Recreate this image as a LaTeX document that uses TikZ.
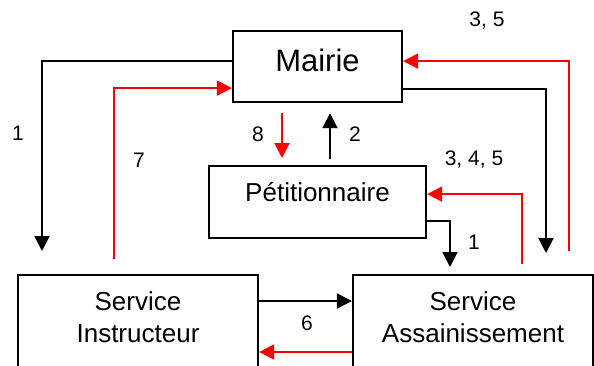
\documentclass[tikz,border=0pt]{standalone}
\usepackage{fontspec}
\setmainfont{Liberation Sans}
\usetikzlibrary{arrows.meta}

\begin{document}
\begin{tikzpicture}[x=0.5pt, y=-0.5pt]
        % ================= styles =================
        \tikzset{
            % rectangular boxes, text hangs from the top edge
            box/.style={draw=black, line width=1.1pt, fill=white, inner sep=0pt, align=center},
            % step numbers
            lbl/.style={font=\fontsize{10.5}{12}\selectfont},
            % black flow
            blk/.style={line width=1pt, black, -{Triangle[length=7.5pt, width=7.5pt]}},
            % red flow (returns)
            rd/.style={line width=1pt, red, -{Triangle[length=7.5pt, width=7.5pt]}}
        }

        \useasboundingbox (0,0) rectangle (594,365);
        \clip (0,0) rectangle (594,365);

        % ================= boxes =================
        \node[box, anchor=north, text width=84.5pt, text height=20pt, text depth=15.5pt,
              font=\fontsize{15.5}{18}\selectfont] (mairie) at (317.5,30) {Mairie};
        \node[box, anchor=north, text width=108.5pt, text height=17.5pt, text depth=18.5pt,
              font=\fontsize{13}{16}\selectfont] (petit) at (317.5,165) {Pétitionnaire};
        \node[box, anchor=north, text width=120pt, text height=17.5pt, text depth=60pt,
              font=\fontsize{13}{16}\selectfont] (instr) at (138,274) {Service\\Instructeur};
        \node[box, anchor=north, text width=120pt, text height=17.5pt, text depth=60pt,
              font=\fontsize{13}{16}\selectfont] (assain) at (473,274) {Service\\Assainissement};

        % ================= free ends =================
        \coordinate (tip1) at (42,251);    % arrow 1 to the left
        \coordinate (src7) at (114,259);   % start of 7
        \coordinate (tip1b) at (546,253);  % arrow 1 to the right
        \coordinate (src35) at (569,251);  % start of 3, 5

        % ================= connectors =================
        % Mairie -> both services
        \draw[blk] ([yshift=2.75pt]mairie.west) -| (tip1);
        \draw[blk] ([yshift=-11.25pt]mairie.east) -| (tip1b);

        % returns to Mairie
        \draw[rd] (src7) |- ([yshift=-10.75pt]mairie.west);
        \draw[rd] (src35) |- ([yshift=2.75pt]mairie.east);

        % Mairie <-> Petitionnaire
        \draw[rd, shorten <=5pt, shorten >=3.5pt] ([xshift=-17.75pt]mairie.south) -- ([xshift=-17.75pt]petit.north);
        \draw[blk, shorten <=3pt, shorten >=5pt] ([xshift=6.25pt]petit.north) -- ([xshift=6.25pt]mairie.south);

        % Petitionnaire <-> Assainissement
        \draw[blk, shorten >=3.5pt] ([yshift=-9.5pt]petit.east) -| ([xshift=-11.5pt]assain.north);
        \draw[rd, shorten <=5pt] ([xshift=24.5pt]assain.north) |- ([yshift=4pt]petit.east);

        % Instructeur <-> Assainissement
        \draw[blk] ([yshift=-13.5pt]instr.north east) -- ([yshift=-13.5pt]assain.north west);
        \draw[rd] ([yshift=-39pt]assain.north west) -- ([yshift=-39pt]instr.north east);

        % ================= labels =================
        \node[lbl] (n1a) at (18,133) {1};
        \node[lbl] (n7) at (139,160) {7};
        \node[lbl] (n8) at (258,134) {8};
        \node[lbl] (n2) at (355,134) {2};
        \node[lbl] (n35) at (487,21) {3, 5};
        \node[lbl] (n345) at (474,160) {3, 4, 5};
        \node[lbl] (n1b) at (474,242) {1};
        \node[lbl] (n6) at (307,323) {6};

    \end{tikzpicture}
\end{document}
